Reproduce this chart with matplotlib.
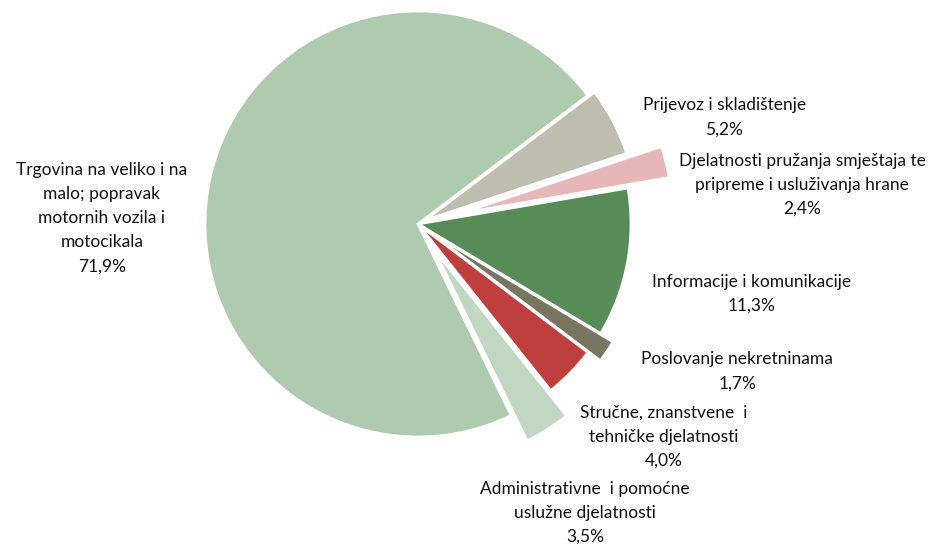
import matplotlib
matplotlib.use('Agg')
import matplotlib.pyplot as plt

plt.rcParams['font.family'] = ['Lato', 'DejaVu Sans']

# Data (clockwise from the top-right)
labels = [
    'Prijevoz i skladištenje',
    'Djelatnosti pružanja smještaja te\npripreme i usluživanja hrane',
    'Informacije i komunikacije',
    'Poslovanje nekretninama',
    'Stručne, znanstvene  i\ntehničke djelatnosti',
    'Administrativne  i pomoćne\nuslužne djelatnosti',
    'Trgovina na veliko i na\nmalo; popravak\nmotornih vozila i\nmotocikala',
]
shares = [5.2, 2.4, 11.3, 1.7, 4.0, 3.5, 71.9]
colors = ['#BFBDAF', '#E6B7B6', '#578B58', '#787660', '#BF3E3E', '#C2D7C1', '#AECAAF']
explode = [0.035, 0.2, 0.0, 0.07, 0.0, 0.14, 0.0]

# label centres in pie units (radius = 1)
label_pos = [(1.437, 0.50), (1.803, 0.183), (1.568, -0.329), (1.498, -0.692),
             (1.155, -1.0), (0.784, -1.357), (-1.484, 0.028)]

fig = plt.figure(figsize=(9.33, 5.44), dpi=100)
ax = fig.add_axes([0, 0, 1, 1])

ax.pie(shares, colors=colors, explode=explode, startangle=37.1,
       counterclock=False, radius=1.0,
       wedgeprops={'edgecolor': 'white', 'linewidth': 2})

for lab, val, (x, y) in zip(labels, shares, label_pos):
    txt = lab + '\n' + f'{val:.1f}'.replace('.', ',') + '%'
    ax.text(x, y, txt, ha='center', va='center', fontsize=12.5,
            linespacing=1.62, color='#111111')

# pie centre at pixel (418, 224), radius 213 px
s = 213
ax.set_xlim(-418 / s, (933 - 418) / s)
ax.set_ylim(-(544 - 224) / s, 224 / s)
ax.axis('off')

fig.savefig('out.png', dpi=100)
